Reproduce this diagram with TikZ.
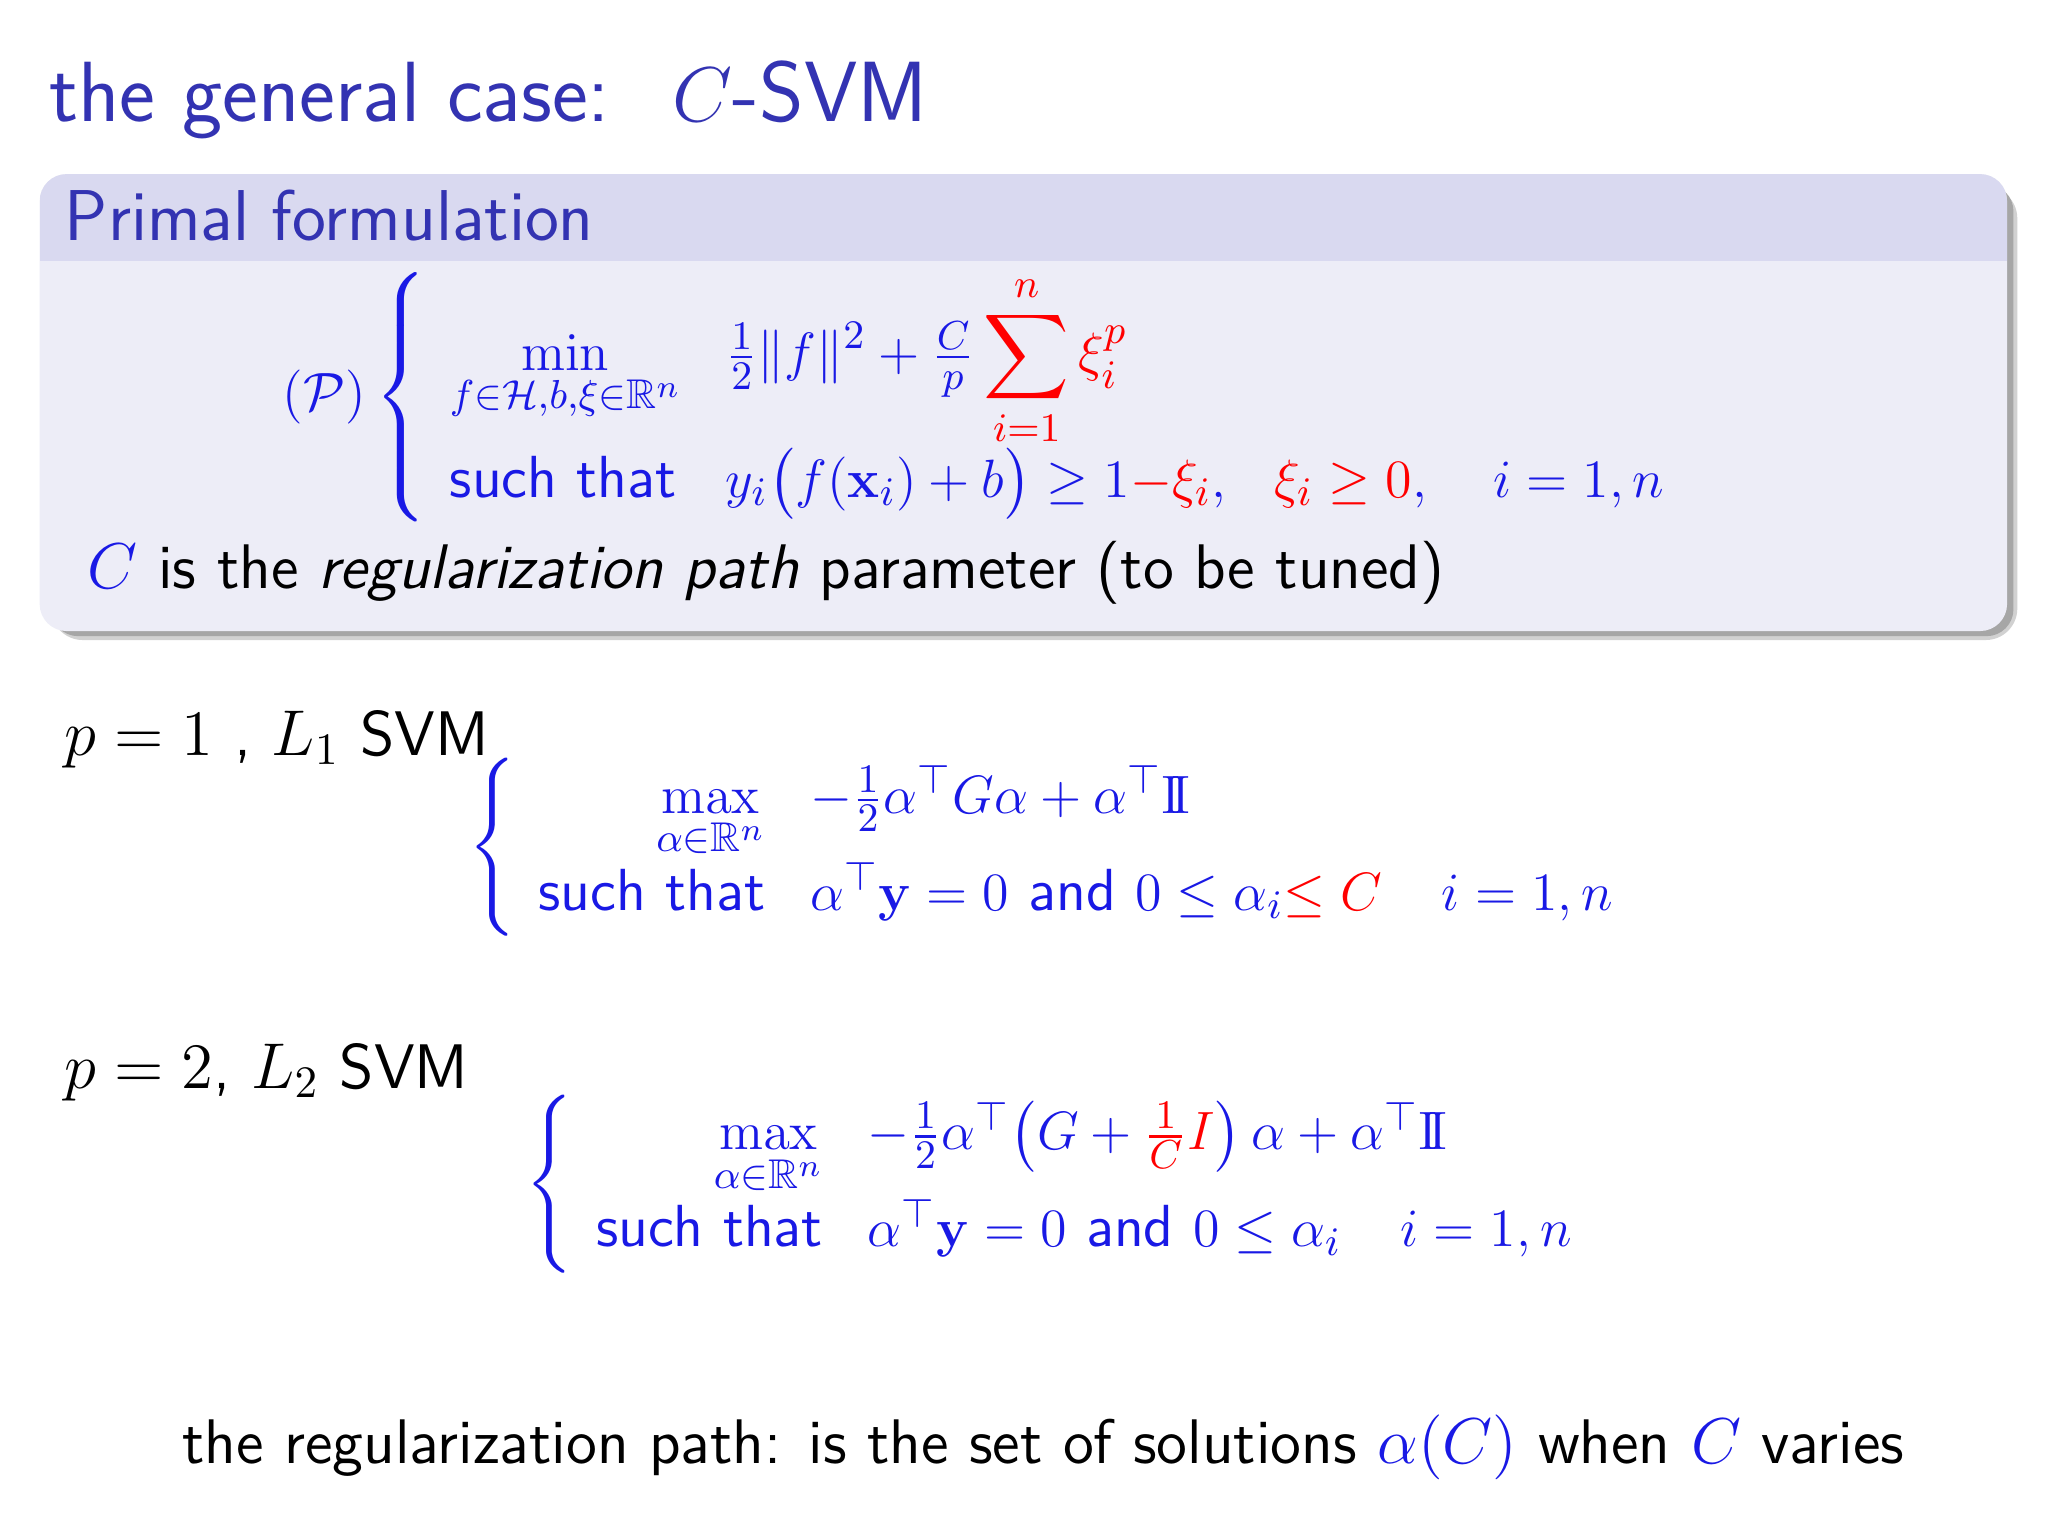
\documentclass[tikz,border=0pt]{standalone}
\usepackage{amsmath,amssymb}
\definecolor{sblue}{rgb}{0.2,0.2,0.7}
\definecolor{mblue}{rgb}{0.1,0.1,0.9}
\definecolor{bhead}{rgb}{0.85,0.85,0.94}
\definecolor{bbody}{rgb}{0.93,0.93,0.97}
\tikzset{txt/.style={inner sep=0pt,font=\fontsize{14}{17}\selectfont\sffamily},
 mth/.style={inner sep=0pt,font=\fontsize{13.2}{16}\selectfont\sffamily}}
\begin{document}
\begin{tikzpicture}[x=1cm,y=-1cm]
\useasboundingbox (0,0) rectangle (16,12);
\fill[white] (0,0) rectangle (16,12);
\node[txt,anchor=base west,text=sblue,font=\fontsize{19}{23}\selectfont\sffamily] (title) at (0.38,0.95) {the general case: \ $C$-SVM};
% block shadow
\fill[black!18,rounded corners=7pt] (0.40,1.46) rectangle (15.76,5.0);
\fill[black!35,rounded corners=6pt] (0.40,1.44) rectangle (15.73,4.97);
\fill[bbody,rounded corners=6pt] (0.31,1.36) rectangle (15.68,4.93);
\begin{scope}
\clip[rounded corners=6pt] (0.31,1.36) rectangle (15.68,4.93);
\fill[bhead] (0.31,1.36) rectangle (15.68,2.04);
\end{scope}
\node[txt,anchor=base west,text=sblue,font=\fontsize{16}{20}\selectfont\sffamily] (bt) at (0.5,1.88) {Primal formulation};
\node[mth,anchor=west,text=mblue] (P) at (2.2,3.1) {$(\mathcal{P})\left\{\begin{array}{ll}
\displaystyle\min_{f\in\mathcal{H},b,\xi\in\mathbb{R}^n} & \displaystyle\tfrac12\|f\|^2+\tfrac{C}{p}\color{red}\sum_{i=1}^n\xi_i^p\\[9pt]
\text{such that} & y_i\big(f(\mathbf{x}_i)+b\big)\geq 1{\color{red}-\xi_i},\ \ {\color{red}\xi_i\geq 0},\ \ \ i=1,n
\end{array}\right.$};
\node[txt,anchor=base west] (Cp) at (0.68,4.6) {{\color{mblue}$C$} is the \textit{regularization path} parameter (to be tuned)};
% L1
\node[txt,anchor=base west] (p1) at (0.5,5.9) {$p=1$ , $L_1$ SVM};
\node[mth,anchor=west,text=mblue] (d1) at (3.65,6.62) {$\left\{\begin{array}{rl}
\displaystyle\max_{\alpha\in\mathbb{R}^n} & -\tfrac12\alpha^\top G\alpha+\alpha^\top\mathrm{I\!I}\\[5pt]
\text{such that} & \alpha^\top\mathbf{y}=0 \text{ and } 0\leq\alpha_i{\color{red}\leq C}\quad i=1,n
\end{array}\right.$};
% L2
\node[txt,anchor=base west] (p2) at (0.5,8.5) {$p=2$, $L_2$ SVM};
\node[mth,anchor=west,text=mblue] (d2) at (4.1,9.25) {$\left\{\begin{array}{rl}
\displaystyle\max_{\alpha\in\mathbb{R}^n} & -\tfrac12\alpha^\top\big(G+{\color{red}\tfrac1C I}\big)\,\alpha+\alpha^\top\mathrm{I\!I}\\[5pt]
\text{such that} & \alpha^\top\mathbf{y}=0 \text{ and } 0\leq\alpha_i\quad i=1,n
\end{array}\right.$};
\node[txt,anchor=base west] (rp) at (1.42,11.43) {the regularization path: is the set of solutions {\color{mblue}$\alpha(C)$} when {\color{mblue}$C$} varies};
\end{tikzpicture}
\end{document}
